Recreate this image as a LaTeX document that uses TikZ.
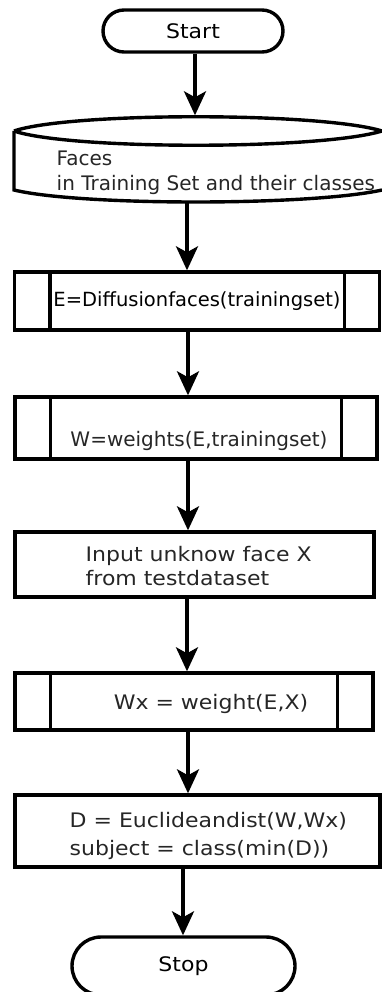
\documentclass[tikz,border=0pt]{standalone}
\usepackage{fontspec}
\setmainfont{DejaVu Sans}
\newfontfamily\widefont{DejaVu Sans}[FakeStretch=1.1]
\usetikzlibrary{arrows.meta, positioning}

\begin{document}
\begin{tikzpicture}[x=1pt, y=-1pt, line width=3.4pt,
    font=\fontsize{20}{24.5}\selectfont,
    box/.style={draw, rectangle, inner sep=0pt},
    txt/.style={inner sep=0pt, align=left, text=black!85},
    wide/.style={font=\widefont\fontsize{20}{24.5}\selectfont},
    arr/.style={-{Stealth[length=24pt, width=22pt, inset=6pt]}}]

    \useasboundingbox (0,0) rectangle (382,992);

    % --- Flow Nodes ---
    \node[box, wide, rounded corners=21pt, minimum width=180pt, minimum height=42pt] (Start) at (193,31) {Start};
    \node[inner sep=0pt, minimum width=368pt, minimum height=84pt] (Faces) at (198,159) {}; % input shape
    \node[box, font=\fontsize{19.5}{24}\selectfont, minimum width=365pt, minimum height=58pt] (Diff) at (197,301) {E=Diffusionfaces(trainingset)};
    \node[box, minimum width=362pt, minimum height=62pt] (Weights) at (196,428) {};
    \node[box, minimum width=359pt, minimum height=65pt] (Input) at (194.5,564.5) {};
    \node[box, minimum width=358pt, minimum height=57pt] (Wx) at (194,701.5) {};
    \node[box, minimum width=365pt, minimum height=72pt] (Dist) at (197.5,831) {};
    \node[box, wide, rounded corners=29pt, minimum width=223pt, minimum height=58pt] (Stop) at (183.5,966) {Stop};

    % --- Input Shape ---
    \draw (14,131) .. controls (70,112) and (320,112) .. (382,131);
    \draw (14,131) .. controls (70,150) and (320,150) .. (382,131);
    \draw (14,131) -- (14,190) .. controls (80,206) and (310,206) .. (382,190);

    % --- Sub-process Bars ---
    \foreach \b in {Diff, Weights, Wx} {
        \draw ([xshift=37pt]\b.north west) -- ([xshift=37pt]\b.south west);
        \draw ([xshift=-37pt]\b.north east) -- ([xshift=-37pt]\b.south east);
    }

    % --- Texts ---
    \node[txt, anchor=west] (FacesTxt) at (55,173) {Faces\\in Training Set and their classes};
    \node[txt] (WeightsTxt) at (199,441) {W=weights(E,trainingset)};
    \node[txt, wide, anchor=west] (InputTxt) at (84,566) {Input unknow face X\\from testdataset};
    \node[txt, wide] (WxTxt) at (211,704) {Wx = weight(E,X)};
    \node[txt, wide, anchor=west, font=\widefont\fontsize{20}{28}\selectfont] (DistTxt) at (68,836) {D = Euclideandist(W,Wx)\\subject = class(min(D))};

    % --- Arrows ---
    \draw[arr] ([xshift=2pt]Start.south) -- ([xshift=-3pt]Faces.north);
    \draw[arr] ([xshift=-11pt]Faces.south) -- ([xshift=-10pt]Diff.north);
    \draw[arr] ([xshift=-9pt]Diff.south) -- ([xshift=-8pt]Weights.north);
    \draw[arr] ([xshift=-8pt]Weights.south) -- ([xshift=-6.5pt]Input.north);
    \draw[arr] ([xshift=-7.5pt]Input.south) -- ([xshift=-7pt]Wx.north);
    \draw[arr] ([xshift=-6pt]Wx.south) -- ([xshift=-9.5pt]Dist.north);
    \draw[arr] ([xshift=-14.5pt]Dist.south) -- ([xshift=-0.5pt]Stop.north);

\end{tikzpicture}
\end{document}
